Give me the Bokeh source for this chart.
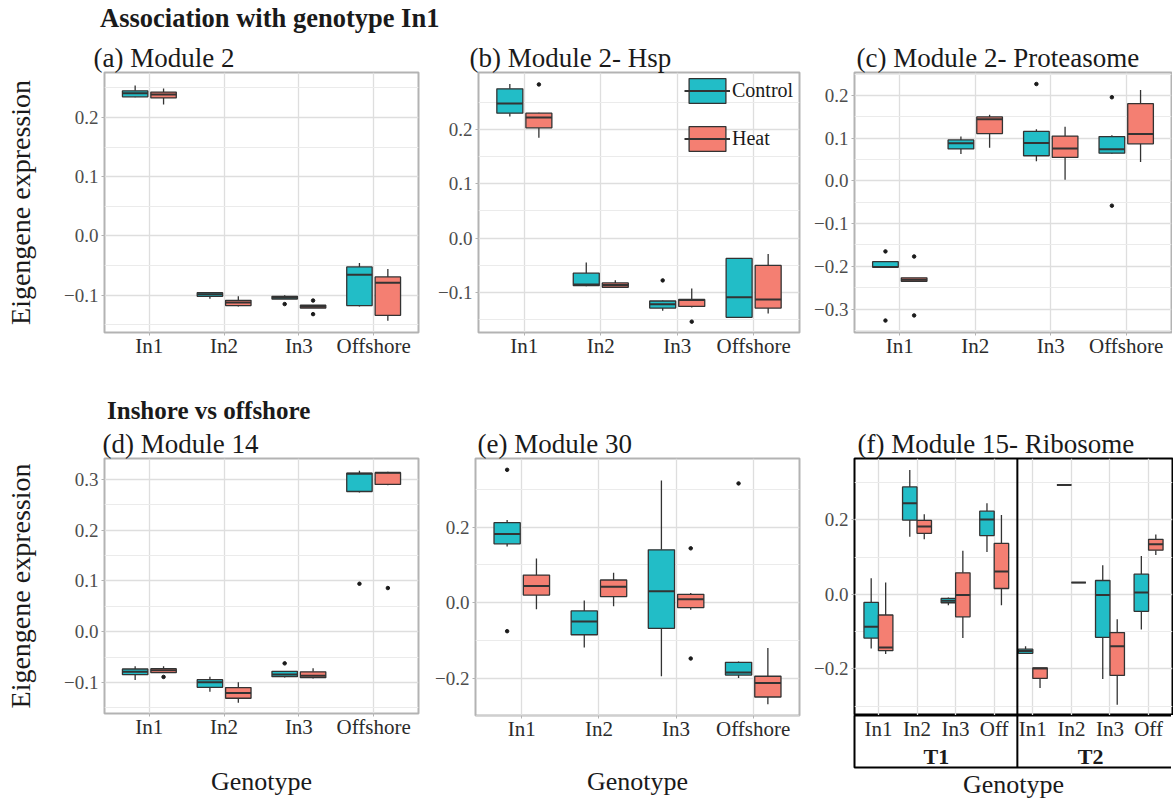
from bokeh.plotting import figure
from bokeh.models import (ColumnDataSource, FactorRange, Range1d, FixedTicker, CustomJSTickFormatter,
                          Div, Legend, LegendItem, Span, Title)
from bokeh.transform import dodge
from bokeh.layouts import column, row
from bokeh.embed import file_html
from bokeh.resources import INLINE

# ---------------------------------------------------------------- data
GENOTYPES = ["In1", "In2", "In3", "Offshore"]
TREATMENTS = ["Control", "Heat"]
# box stats per genotype: (lower whisker, q1, median, q3, upper whisker)
A_CONTROL = [(0.234, 0.235, 0.241, 0.245, 0.254), (-0.106, -0.102, -0.0985, -0.0957, -0.095),
             (-0.1064, -0.1064, -0.104, -0.102, -0.100), (-0.119, -0.1176, -0.0653, -0.0523, -0.0456)]
A_HEAT = [(0.222, 0.233, 0.239, 0.243, 0.249), (-0.119, -0.1176, -0.1125, -0.1086, -0.102),
          (-0.1216, -0.1216, -0.119, -0.117, -0.117), (-0.143, -0.134, -0.0788, -0.0692, -0.0557)]
A_OUT_CONTROL = [("In3", -0.115)]
A_OUT_HEAT = [("In3", -0.109), ("In3", -0.132)]

B_CONTROL = [(0.224, 0.230, 0.248, 0.275, 0.284), (-0.089, -0.0875, -0.0856, -0.0647, -0.045),
             (-0.134, -0.129, -0.122, -0.116, -0.115), (-0.146, -0.146, -0.109, -0.0376, -0.0376)]
B_HEAT = [(0.185, 0.203, 0.222, 0.230, 0.231), (-0.092, -0.0906, -0.0863, -0.0826, -0.0776),
          (-0.128, -0.126, -0.114, -0.113, -0.093), (-0.139, -0.129, -0.113, -0.0505, -0.0296)]
B_OUT_CONTROL = [("In3", -0.078)]
B_OUT_HEAT = [("In1", 0.283), ("In3", -0.154)]

C_CONTROL = [(-0.202, -0.202, -0.2015, -0.189, -0.188), (0.063, 0.075, 0.088, 0.096, 0.104),
             (0.046, 0.059, 0.089, 0.116, 0.121), (0.063, 0.065, 0.074, 0.104, 0.107)]
C_HEAT = [(-0.235, -0.235, -0.2315, -0.227, -0.227), (0.078, 0.111, 0.1446, 0.150, 0.155),
          (0.003, 0.055, 0.076, 0.105, 0.127), (0.0445, 0.087, 0.110, 0.181, 0.213)]
C_OUT_CONTROL = [("In1", -0.165), ("In1", -0.327), ("In3", 0.227), ("Offshore", 0.196), ("Offshore", -0.058)]
C_OUT_HEAT = [("In1", -0.177), ("In1", -0.315)]

D_CONTROL = [(-0.095, -0.0846, -0.0787, -0.0734, -0.068), (-0.118, -0.1095, -0.0997, -0.0944, -0.0885),
             (-0.090, -0.0885, -0.084, -0.078, -0.078), (0.274, 0.276, 0.311, 0.312, 0.317)]
D_HEAT = [(-0.0807, -0.0807, -0.076, -0.0728, -0.068), (-0.140, -0.131, -0.1207, -0.110, -0.0997),
          (-0.092, -0.0905, -0.0866, -0.079, -0.072), (0.2885, 0.290, 0.3128, 0.313, 0.315)]
D_OUT_CONTROL = [("In3", -0.0623), ("Offshore", 0.0944)]
D_OUT_HEAT = [("In1", -0.089), ("Offshore", 0.086)]

E_CONTROL = [(0.149, 0.156, 0.182, 0.212, 0.219), (-0.119, -0.085, -0.050, -0.022, 0.006),
             (-0.195, -0.068, 0.030, 0.140, 0.3235), (-0.1996, -0.192, -0.185, -0.158, -0.156)]
E_HEAT = [(-0.0176, 0.020, 0.044, 0.073, 0.117), (-0.0097, 0.016, 0.042, 0.060, 0.079),
          (-0.0185, -0.013, 0.0088, 0.022, 0.0255), (-0.269, -0.250, -0.213, -0.195, -0.120)]
E_OUT_CONTROL = [("In1", 0.352), ("In1", -0.0756), ("Offshore", 0.316)]
E_OUT_HEAT = [("In3", 0.144), ("In3", -0.148)]

F_TIMES = ["T1", "T2"]
F_GENOTYPES = ["In1", "In2", "In3", "Off"]
F_T1_CONTROL = [(-0.145, -0.117, -0.0864, -0.0214, 0.0437), (0.155, 0.1996, 0.245, 0.2886, 0.334),
                (-0.029, -0.0223, -0.017, -0.0107, -0.008), (0.114, 0.158, 0.2013, 0.2236, 0.245)]
F_T1_HEAT = [(-0.160, -0.151, -0.1425, -0.0552, 0.032), (0.148, 0.164, 0.1826, 0.1987, 0.2156),
             (-0.1167, -0.060, -0.0018, 0.058, 0.1176), (-0.029, 0.016, 0.0615, 0.137, 0.213)]
F_T2_CONTROL = [(-0.158, -0.158, -0.152, -0.147, -0.139), (0.294, 0.294, 0.294, 0.294, 0.294),
                (-0.227, -0.115, -0.0018, 0.0374, 0.0784), (-0.0944, -0.0454, 0.0053, 0.0543, 0.1033)]
F_T2_HEAT = [(-0.251, -0.2254, -0.199, -0.197, -0.197), (0.032, 0.032, 0.032, 0.032, 0.032),
             (-0.296, -0.2174, -0.139, -0.1024, -0.0668), (0.106, 0.119, 0.1345, 0.148, 0.161)]

# ---------------------------------------------------------------- style
SERIF = "Liberation Serif"
COLORS = {"Control": "#22BDC7", "Heat": "#F47F72"}
EDGE = "#333333"
YFMT = "return (tick < -1e-9 ? '\u2212' : '') + Math.abs(tick).toFixed(1);"
TOP = 38


def style_axis(ax, size, color, standoff):
    ax.axis_line_color = None
    ax.major_tick_line_color = "#b3b3b3"
    ax.major_tick_out = 3
    ax.major_tick_in = 0
    ax.minor_tick_line_color = None
    ax.major_label_standoff = standoff
    ax.major_label_text_font = SERIF
    ax.major_label_text_font_size = size
    ax.major_label_text_color = color


def make_fig(title, x_range, ylim, major, minor, fw, fh, borders, title_offset):
    left, right, top, bottom = borders
    p = figure(x_range=x_range, y_range=Range1d(*ylim), frame_width=fw, frame_height=fh,
               min_border_left=left, min_border_right=right, min_border_top=top,
               min_border_bottom=bottom, output_backend="svg", toolbar_location=None, title=title)
    p.title.text_font = SERIF
    p.title.text_font_size = "27px"
    p.title.text_font_style = "normal"
    p.title.text_color = "#1a1a1a"
    p.title.offset = title_offset
    p.title.standoff = 0
    p.outline_line_color = "#b3b3b3"
    p.outline_line_width = 2
    p.outline_line_alpha = 1
    p.background_fill_color = "white"
    p.border_fill_color = "white"
    for ax in p.yaxis:
        ax.ticker = FixedTicker(ticks=major, minor_ticks=minor)
        ax.formatter = CustomJSTickFormatter(code=YFMT)
        style_axis(ax, "19px", "#4d4d4d", 2)
    for ax in p.xaxis:
        style_axis(ax, "21px", "#2b2b2b", -2)
    p.xgrid.grid_line_color = "#dedede"
    p.xgrid.grid_line_width = 1.3
    p.ygrid.grid_line_color = "#dedede"
    p.ygrid.grid_line_width = 1.3
    p.ygrid.minor_grid_line_color = "#ebebeb"
    p.ygrid.minor_grid_line_width = 1
    return p


def draw_series(p, rng, factors, stats, outliers, offset, width, color):
    lo, q1, md, q3, hi = (list(v) for v in zip(*stats))
    src = ColumnDataSource(dict(g=factors, lo=lo, q1=q1, md=md, q3=q3, hi=hi))
    xc = dodge("g", offset, range=rng)
    p.segment(x0=xc, y0="lo", x1=xc, y1="q1", source=src, line_color=EDGE, line_width=1.3)
    p.segment(x0=xc, y0="q3", x1=xc, y1="hi", source=src, line_color=EDGE, line_width=1.3)
    box = p.vbar(x=xc, width=width, bottom="q1", top="q3", source=src,
                 fill_color=color, line_color=EDGE, line_width=1.3)
    med = p.segment(x0=dodge("g", offset - width / 2, range=rng), y0="md",
                    x1=dodge("g", offset + width / 2, range=rng), y1="md",
                    source=src, line_color=EDGE, line_width=2)
    if outliers:
        og, ov = zip(*outliers)
        p.scatter(x=dodge("g", offset, range=rng), y="v",
                  source=ColumnDataSource(dict(g=list(og), v=list(ov))),
                  size=3.5, color="#1a1a1a")
    return box, med


def panel(title, ylim, major, minor, fw, fh, borders, toff, ctrl, heat, out_c, out_h):
    rng = FactorRange(*GENOTYPES, range_padding=0.1, range_padding_units="absolute")
    p = make_fig(title, rng, ylim, major, minor, fw, fh, borders, toff)
    rc = draw_series(p, rng, GENOTYPES, ctrl, out_c, -0.19, 0.34, COLORS["Control"])
    rh = draw_series(p, rng, GENOTYPES, heat, out_h, 0.19, 0.34, COLORS["Heat"])
    return p, rc, rh


M1 = [-0.1, 0.0, 0.1, 0.2]
m1 = [-0.15, -0.05, 0.05, 0.15, 0.25]

pa, _, _ = panel("(a) Module 2", (-0.163, 0.276), M1, m1, 314, 260, (104, 17, TOP, 36), -11,
                 A_CONTROL, A_HEAT, A_OUT_CONTROL, A_OUT_HEAT)
pb, (bc, mc), (bh, mh) = panel("(b) Module 2- Hsp", (-0.174, 0.305), M1, m1, 321, 260,
                               (41, 12, TOP, 36), -9, B_CONTROL, B_HEAT, B_OUT_CONTROL, B_OUT_HEAT)
pc, _, _ = panel("(c) Module 2- Proteasome", (-0.355, 0.254), [-0.3, -0.2, -0.1, 0.0, 0.1, 0.2],
                 [-0.35, -0.25, -0.15, -0.05, 0.05, 0.15, 0.25], 317, 260, (41, 1, TOP, 36), 2,
                 C_CONTROL, C_HEAT, C_OUT_CONTROL, C_OUT_HEAT)
pd, _, _ = panel("(d) Module 14", (-0.161, 0.341), [-0.1, 0.0, 0.1, 0.2, 0.3],
                 [-0.15, -0.05, 0.05, 0.15, 0.25], 314, 255, (104, 14, TOP, 85), -2,
                 D_CONTROL, D_HEAT, D_OUT_CONTROL, D_OUT_HEAT)
pe, _, _ = panel("(e) Module 30", (-0.299, 0.382), [-0.2, 0.0, 0.2], [-0.3, -0.1, 0.1, 0.3],
                 324, 257, (41, 12, TOP, 83), 2, E_CONTROL, E_HEAT, E_OUT_CONTROL, E_OUT_HEAT)

# legend in panel (b)
legend = Legend(items=[LegendItem(label="Control", renderers=[bc, mc]),
                       LegendItem(label="Heat", renderers=[bh, mh])],
                location=(206, 178), glyph_width=46, glyph_height=31, spacing=17, padding=0, margin=0,
                label_standoff=2, label_text_font=SERIF, label_text_font_size="20px",
                label_text_color="#1a1a1a", border_line_color=None, background_fill_alpha=0)
pb.add_layout(legend)

# y labels / x labels
for p in (pa, pd):
    p.yaxis.axis_label = "Eigengene expression"
    p.yaxis.axis_label_text_font = SERIF
    p.yaxis.axis_label_text_font_size = "28px"
    p.yaxis.axis_label_text_font_style = "normal"
    p.yaxis.axis_label_text_color = "#1a1a1a"
    p.yaxis.axis_label_standoff = 25
for p, s in ((pd, 25), (pe, 23)):
    p.xaxis.axis_label = "Genotype"
    p.xaxis.axis_label_text_font = SERIF
    p.xaxis.axis_label_text_font_size = "26px"
    p.xaxis.axis_label_text_font_style = "normal"
    p.xaxis.axis_label_text_color = "#1a1a1a"
    p.xaxis.axis_label_standoff = s

# panel (f): two temperature facets, plotting area + boxed label strip
F_FACTORS = [(t, g) for t in F_TIMES for g in F_GENOTYPES]
frng = FactorRange(*F_FACTORS, factor_padding=0, group_padding=0, range_padding=0.12,
                   range_padding_units="absolute")
pf = make_fig("(f) Module 15- Ribosome", frng, (-0.325, 0.365), [-0.2, 0.0, 0.2],
              [-0.3, -0.1, 0.1, 0.3], 318, 257, (41, 1, TOP, 0), 3)
draw_series(pf, frng, F_FACTORS, F_T1_CONTROL + F_T2_CONTROL, None, -0.1875, 0.375, COLORS["Control"])
draw_series(pf, frng, F_FACTORS, F_T1_HEAT + F_T2_HEAT, None, 0.1875, 0.375, COLORS["Heat"])
pf.outline_line_color = "black"
pf.xaxis.visible = False
DIVIDER = len(F_GENOTYPES) + 0.1
pf.add_layout(Span(location=DIVIDER, dimension="height", line_color="black", line_width=2))

fs = figure(x_range=frng, y_range=Range1d(0, 1), frame_width=318, frame_height=52,
            min_border_left=41, min_border_right=1, min_border_top=0, min_border_bottom=30,
            output_backend="svg", toolbar_location=None)
fs.xaxis.visible = False
fs.yaxis.visible = False
fs.grid.visible = False
fs.outline_line_color = "black"
fs.outline_line_width = 2
fs.outline_line_alpha = 1
fs.add_layout(Span(location=DIVIDER, dimension="height", line_color="black", line_width=2))
fs.text(x=F_FACTORS, y=[0.75] * len(F_FACTORS), text=[g for _, g in F_FACTORS],
        text_font=SERIF, text_font_size="21px", text_color="#2b2b2b",
        text_align="center", text_baseline="middle")
fs.text(x=F_TIMES, y=[0.22] * len(F_TIMES), text=F_TIMES, text_font=SERIF,
        text_font_size="22px", text_font_style="bold", text_color="#1a1a1a",
        text_align="center", text_baseline="middle")
gt = Title(text="Genotype", align="center", text_font=SERIF, text_font_size="26px",
           text_font_style="normal", text_color="#1a1a1a", standoff=0)
fs.add_layout(gt, "below")

HEAD = "font-family:'Liberation Serif'; font-weight:bold; color:#1a1a1a; position:relative;"
div1 = Div(text=f'<span style="{HEAD} font-size:26.5px; left:100px; top:1px;">Association with genotype In1</span>',
           width=1168, height=34, margin=(0, 0, 0, 0), styles={"line-height": "34px"})
div2 = Div(text=f'<span style="{HEAD} font-size:25px; left:107px; top:17px;">Inshore vs offshore</span>',
           width=1168, height=52, margin=(0, 0, 0, 0), styles={"line-height": "52px"})

layout = column(div1, row(pa, pb, pc), div2, row(pd, pe, column(pf, fs)))
open("out.html", "w").write(file_html(layout, INLINE, "Eigengene expression"))
